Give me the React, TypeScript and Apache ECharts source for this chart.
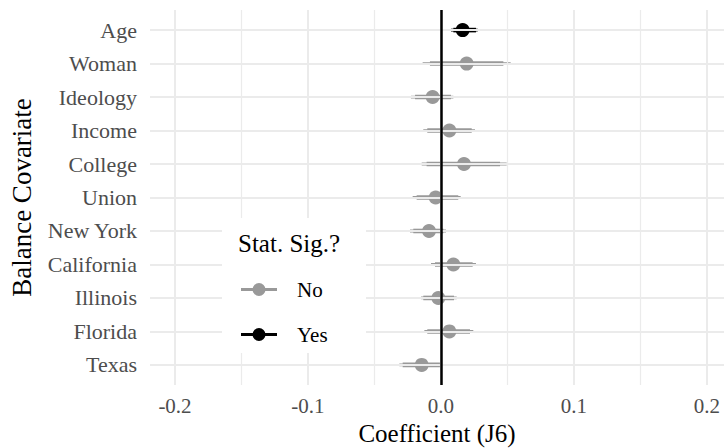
import React, { useEffect, useRef } from "react";
import * as echarts from "echarts";

const categories = ["Age", "Woman", "Ideology", "Income", "College", "Union", "New York", "California", "Illinois", "Florida", "Texas"];
const estimates = [0.0163, 0.0193, -0.0063, 0.0063, 0.0173, -0.004, -0.009, 0.0093, -0.002, 0.0063, -0.0145];
const lower95 = [0.0075, -0.0138, -0.0226, -0.0133, -0.0145, -0.0213, -0.0233, -0.0075, -0.015, -0.0125, -0.0313];
const upper95 = [0.0276, 0.0524, 0.0093, 0.0256, 0.0494, 0.0148, 0.0038, 0.0263, 0.0118, 0.0243, 0.0005];
const lower90 = [0.0093, -0.0083, -0.0195, -0.0103, -0.0108, -0.0183, -0.0208, -0.0045, -0.0133, -0.0103, -0.0288];
const upper90 = [0.0263, 0.0469, 0.0075, 0.0231, 0.0444, 0.013, 0.0018, 0.0238, 0.0098, 0.0218, -0.0008];
const significant = ["Yes", "No", "No", "No", "No", "No", "No", "No", "No", "No", "No"];

const majorTicksX = [-0.2, -0.1, 0, 0.1, 0.2];
const minorTicksX = [-0.15, -0.05, 0.05, 0.15];
const legendLevels = ["No", "Yes"];
const levelColors: Record<string, string> = { No: "#999999", Yes: "#000000" };

const FONT = "Liberation Serif";
const LEGEND_ICON =
  "path://M0,5 L36,5 L36,8 L0,8 Z M11.5,6.5 A6.5,6.5 0 1,1 24.5,6.5 A6.5,6.5 0 1,1 11.5,6.5 Z";

function rowsFor(level: string) {
  const rows: number[][] = [];
  categories.forEach((_, i) => {
    if (significant[i] === level) {
      rows.push([estimates[i], i, lower95[i], upper95[i], lower90[i], upper90[i]]);
    }
  });
  return rows;
}

function renderItem(params: any, api: any) {
  const y = api.value(1);
  const pE = api.coord([api.value(0), y]);
  const a1 = api.coord([api.value(2), y]);
  const a2 = api.coord([api.value(3), y]);
  const b1 = api.coord([api.value(4), y]);
  const b2 = api.coord([api.value(5), y]);
  const color = api.visual("color");
  return {
    type: "group",
    children: [
      { type: "line", shape: { x1: a1[0], y1: a1[1], x2: a2[0], y2: a2[1] }, style: { stroke: color, lineWidth: 2.8 } },
      { type: "line", shape: { x1: b1[0], y1: b1[1], x2: b2[0], y2: b2[1] }, style: { stroke: color, lineWidth: 4.6 } },
      { type: "circle", shape: { cx: pE[0], cy: pE[1], r: 7 }, style: { fill: color } },
    ],
  };
}

export default function App() {
  const ref = useRef<HTMLDivElement>(null);
  useEffect(() => {
    document.body.style.margin = "0";
    if (!ref.current) return;
    const chart = echarts.init(ref.current, null, { renderer: "svg" });
    const option: any = {
      animation: false,
      backgroundColor: "#ffffff",
      textStyle: { fontFamily: FONT },
      grid: { left: 150, right: 0, top: 10, bottom: 63, containLabel: false, outerBoundsMode: "none" },
      xAxis: {
        type: "value",
        min: -0.2188,
        max: 0.2128,
        splitLine: { show: false },
        axisLine: { show: false },
        axisTick: { show: false },
        axisLabel: {
          margin: 10,
          fontSize: 21,
          color: "#4d4d4d",
          fontFamily: FONT,
          formatter: (v: number) => {
            const r = Math.round(v * 10);
            if (Math.abs(v * 10 - r) > 1e-6) return "";
            return (r / 10).toFixed(1);
          },
        },
        name: "Coefficient (J6)",
        nameLocation: "middle",
        nameGap: 35,
        nameTextStyle: { fontSize: 25, color: "#000000", fontFamily: FONT },
      },
      yAxis: {
        type: "value",
        inverse: true,
        min: -0.6,
        max: 10.6,
        splitLine: { show: false },
        axisLine: { show: false },
        axisTick: { show: false },
        axisLabel: {
          customValues: categories.map((_, i) => i),
          margin: 13,
          fontSize: 22,
          color: "#4d4d4d",
          fontFamily: FONT,
          formatter: (v: number) => {
            const r = Math.round(v);
            if (Math.abs(v - r) > 1e-6) return "";
            return categories[r] ?? "";
          },
        },
        name: "Balance Covariate",
        nameLocation: "middle",
        nameGap: 115,
        nameTextStyle: { fontSize: 27, color: "#000000", fontFamily: FONT },
      },
      legend: {
        data: legendLevels.map((n) => ({ name: n, icon: LEGEND_ICON })),
        orient: "vertical",
        left: 236,
        top: 274,
        itemWidth: 36,
        itemHeight: 13,
        itemGap: 24,
        selectedMode: false,
        z: 60,
        textStyle: { fontSize: 21, color: "#000000", fontFamily: FONT, padding: [0, 0, 0, 15] },
      },
      graphic: [
        { type: "rect", shape: { x: 222, y: 218, width: 144, height: 135 }, style: { fill: "#ffffff" }, z: 50 },
        {
          type: "text",
          x: 238,
          y: 243,
          z: 60,
          style: { text: "Stat. Sig.?", fontSize: 25, fontFamily: FONT, fill: "#000000", verticalAlign: "middle" },
        },
      ],
      series: [
        {
          type: "line",
          data: [],
          z: 1,
          silent: true,
          markLine: {
            silent: true,
            symbol: ["none", "none"],
            label: { show: false },
            lineStyle: { color: "#ebebeb", width: 1.2, type: "solid" },
            data: minorTicksX.map((v) => ({ xAxis: v })),
          },
        },
        {
          type: "line",
          data: [],
          z: 1,
          silent: true,
          markLine: {
            silent: true,
            symbol: ["none", "none"],
            label: { show: false },
            lineStyle: { color: "#ebebeb", width: 2, type: "solid" },
            data: [
              ...majorTicksX.map((v) => ({ xAxis: v })),
              ...categories.map((_, i) => ({ yAxis: i })),
            ],
          },
        },
        ...legendLevels.map((lvl) => ({
          name: lvl,
          type: "custom",
          z: 3,
          itemStyle: { color: levelColors[lvl] },
          renderItem,
          encode: { x: [0, 2, 3, 4, 5], y: 1 },
          data: rowsFor(lvl),
        })),
        {
          type: "line",
          data: [],
          z: 10,
          silent: true,
          markLine: {
            silent: true,
            symbol: ["none", "none"],
            label: { show: false },
            lineStyle: { color: "#000000", width: 2.5, type: "solid" },
            data: [{ xAxis: 0 }],
          },
        },
      ],
    };
    chart.setOption(option);
    return () => chart.dispose();
  }, []);
  return <div ref={ref} style={{ width: 724, height: 448 }} />;
}
